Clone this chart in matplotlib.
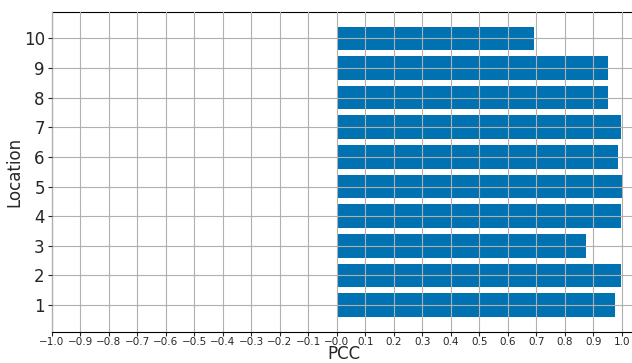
import matplotlib
matplotlib.use("Agg")
import matplotlib.pyplot as plt
import numpy as np

# PCC per location
locations = [1, 2, 3, 4, 5, 6, 7, 8, 9, 10]
pcc = [0.975, 0.996, 0.874, 0.996, 1.0, 0.986, 0.996, 0.951, 0.951, 0.691]

x_ticks = np.round(np.arange(-1.0, 1.01, 0.1), 1)

text_color = "#262626"
plt.rcParams["text.color"] = text_color
plt.rcParams["axes.labelcolor"] = text_color
plt.rcParams["xtick.color"] = text_color
plt.rcParams["ytick.color"] = text_color

fig = plt.figure(figsize=(6.32, 3.63), dpi=100)
# axes runs a little past the right edge of the canvas
ax = fig.add_axes([51.7 / 632, 1 - 331.7 / 363, (636 - 51.7) / 632, 320 / 363])

ax.barh(locations, pcc, height=0.8, color="#0072b2", zorder=1)
ax.set_axisbelow(False)
ax.grid(True, color="#b0b0b0", linewidth=0.8, zorder=2)

ax.set_xlim(-1.0, 1.05)
ax.set_ylim(0.1, 10.9)
ax.set_xticks(x_ticks)
ax.set_xticklabels([f"{t:.1f}".replace("-", "\u2212") for t in x_ticks])
ax.set_yticks(locations)
ax.tick_params(axis="x", labelsize=7.5, length=3, pad=0.5)
ax.tick_params(axis="y", labelsize=12, length=3, pad=2)

ax.set_xlabel("PCC", fontsize=12, labelpad=-1)
ax.set_ylabel("Location", fontsize=12, labelpad=0.5)

fig.savefig("out.png", dpi=100)
